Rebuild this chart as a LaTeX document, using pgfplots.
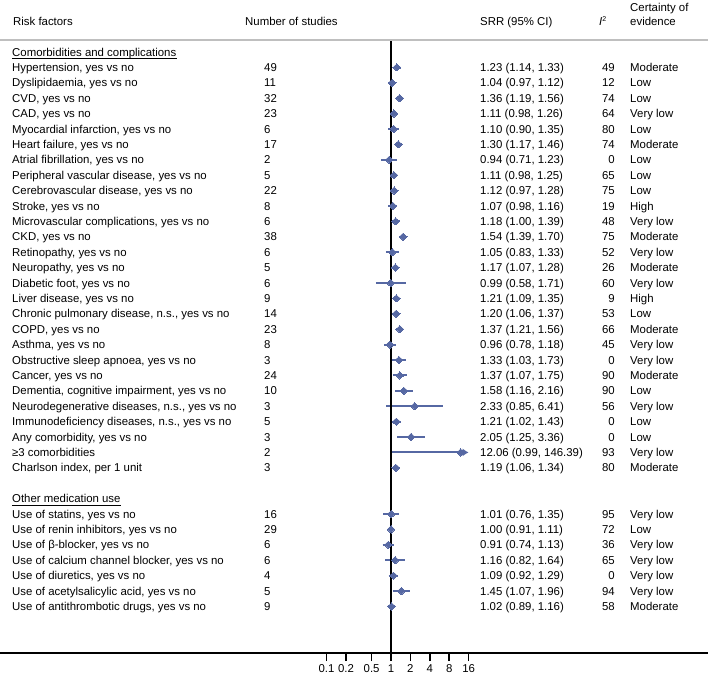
\documentclass[border=0pt]{standalone}
\usepackage{pgfplots}
\pgfplotsset{compat=1.18}
\usepackage{fontspec}
\setmainfont{Liberation Sans}
\usetikzlibrary{arrows.meta}
\definecolor{fp}{RGB}{86,104,163}
\newcommand\fs{\fontsize{11.4}{13.7}\selectfont}
\newcommand\Y[1]{(596.9-15.4*#1)*1pt}
\tikzset{txt/.style={anchor=base west,inner sep=0pt,font=\fs}}
\newcommand\R[6]{%
 \node[txt] at (12pt,{\Y{#1}}) {#2};
 \node[txt] at (264pt,{\Y{#1}}) {#3};
 \node[txt] at (480pt,{\Y{#1}}) {#4};
 \node[txt,anchor=base east] at (615pt,{\Y{#1}}) {#5};
 \node[txt] at (630pt,{\Y{#1}}) {#6};}
\newcommand\ci[3]{\addplot[fp,line width=2pt] coordinates {(#2,#1) (#3,#1)};}
\begin{document}
\begin{tikzpicture}
\useasboundingbox (0pt,-26pt) rectangle (708pt,653pt);
\begin{axis}[at={(0pt,0pt)}, anchor=south west, scale only axis,
  width=708pt, height=613pt,
  xmode=log, log basis x=2, xmin=8.565e-7, xmax=82956,
  ymin=-0.779, ymax=39.026, y dir=reverse,
  axis x line*=bottom, axis y line=none,
  x axis line style={line width=1.5pt,-},
  xtick={0.1,0.2,0.5,1,2,4,8,16},
  xticklabels={0.1,0.2,0.5,1,2,4,8,16},
  minor xtick={}, ytick=\empty,
  tick align=outside, major tick length=8pt,
  xtick style={line width=1.5pt,black},
  tick label style={font=\fs},
  /pgf/number format/assume math mode=true,
  clip=false]
\ci{1}{1.14}{1.33}
\ci{2}{0.97}{1.12}
\ci{3}{1.19}{1.56}
\ci{4}{0.98}{1.26}
\ci{5}{0.90}{1.35}
\ci{6}{1.17}{1.46}
\ci{7}{0.71}{1.23}
\ci{8}{0.98}{1.25}
\ci{9}{0.97}{1.28}
\ci{10}{0.98}{1.16}
\ci{11}{1.00}{1.39}
\ci{12}{1.39}{1.70}
\ci{13}{0.83}{1.33}
\ci{14}{1.07}{1.28}
\ci{15}{0.58}{1.71}
\ci{16}{1.09}{1.35}
\ci{17}{1.06}{1.37}
\ci{18}{1.21}{1.56}
\ci{19}{0.78}{1.18}
\ci{20}{1.03}{1.73}
\ci{21}{1.07}{1.75}
\ci{22}{1.16}{2.16}
\ci{23}{0.85}{6.41}
\ci{24}{1.02}{1.43}
\ci{25}{1.25}{3.36}
\addplot[fp,line width=2pt,-{Latex[length=6pt,width=8pt]}] coordinates {(0.99,26) (16,26)};
\ci{27}{1.06}{1.34}
\ci{30}{0.76}{1.35}
\ci{31}{0.91}{1.11}
\ci{32}{0.74}{1.13}
\ci{33}{0.82}{1.64}
\ci{34}{0.92}{1.29}
\ci{35}{1.07}{1.96}
\ci{36}{0.89}{1.16}
\addplot[black,line width=1.5pt] coordinates {(1,-0.779) (1,39.026)};
\addplot[only marks, mark=diamond*, mark size=3.6pt,
  mark options={fill=fp,draw=fp,line width=0pt,xscale=1.45}] table {
srr row
1.23 1
1.04 2
1.36 3
1.11 4
1.10 5
1.30 6
0.94 7
1.11 8
1.12 9
1.07 10
1.18 11
1.54 12
1.05 13
1.17 14
0.99 15
1.21 16
1.20 17
1.37 18
0.96 19
1.33 20
1.37 21
1.58 22
2.33 23
1.21 24
2.05 25
12.06 26
1.19 27
1.01 30
1.00 31
0.91 32
1.16 33
1.09 34
1.45 35
1.02 36
};
\end{axis}
\draw[black!25,line width=1.5pt] (0pt,613pt) -- (708pt,613pt);
\node[txt] at (13pt,627.2pt) {Risk factors};
\node[txt] at (245pt,627.2pt) {Number of studies};
\node[txt] at (480pt,627.2pt) {SRR (95\% CI)};
\node[txt] at (599pt,627.2pt) {\textit{I}\textsuperscript{\fontsize{7}{8}\selectfont 2}};
\node[txt] at (630pt,641.9pt) {Certainty of};
\node[txt] at (630pt,627.2pt) {evidence};
\node[txt] (s1) at (12pt,{\Y{0}}) {Comorbidities and complications};
\draw[line width=0.9pt] ([yshift=-2.4pt]s1.base west) -- ([yshift=-2.4pt]s1.base east);
\node[txt] (s2) at (12pt,{\Y{29}}) {Other medication use};
\draw[line width=0.9pt] ([yshift=-2.4pt]s2.base west) -- ([yshift=-2.4pt]s2.base east);
\R{1}{Hypertension, yes vs no}{49}{1.23 (1.14, 1.33)}{49}{Moderate}
\R{2}{Dyslipidaemia, yes vs no}{11}{1.04 (0.97, 1.12)}{12}{Low}
\R{3}{CVD, yes vs no}{32}{1.36 (1.19, 1.56)}{74}{Low}
\R{4}{CAD, yes vs no}{23}{1.11 (0.98, 1.26)}{64}{Very low}
\R{5}{Myocardial infarction, yes vs no}{6}{1.10 (0.90, 1.35)}{80}{Low}
\R{6}{Heart failure, yes vs no}{17}{1.30 (1.17, 1.46)}{74}{Moderate}
\R{7}{Atrial fibrillation, yes vs no}{2}{0.94 (0.71, 1.23)}{0}{Low}
\R{8}{Peripheral vascular disease, yes vs no}{5}{1.11 (0.98, 1.25)}{65}{Low}
\R{9}{Cerebrovascular disease, yes vs no}{22}{1.12 (0.97, 1.28)}{75}{Low}
\R{10}{Stroke, yes vs no}{8}{1.07 (0.98, 1.16)}{19}{High}
\R{11}{Microvascular complications, yes vs no}{6}{1.18 (1.00, 1.39)}{48}{Very low}
\R{12}{CKD, yes vs no}{38}{1.54 (1.39, 1.70)}{75}{Moderate}
\R{13}{Retinopathy, yes vs no}{6}{1.05 (0.83, 1.33)}{52}{Very low}
\R{14}{Neuropathy, yes vs no}{5}{1.17 (1.07, 1.28)}{26}{Moderate}
\R{15}{Diabetic foot, yes vs no}{6}{0.99 (0.58, 1.71)}{60}{Very low}
\R{16}{Liver disease, yes vs no}{9}{1.21 (1.09, 1.35)}{9}{High}
\R{17}{Chronic pulmonary disease, n.s., yes vs no}{14}{1.20 (1.06, 1.37)}{53}{Low}
\R{18}{COPD, yes vs no}{23}{1.37 (1.21, 1.56)}{66}{Moderate}
\R{19}{Asthma, yes vs no}{8}{0.96 (0.78, 1.18)}{45}{Very low}
\R{20}{Obstructive sleep apnoea, yes vs no}{3}{1.33 (1.03, 1.73)}{0}{Very low}
\R{21}{Cancer, yes vs no}{24}{1.37 (1.07, 1.75)}{90}{Moderate}
\R{22}{Dementia, cognitive impairment, yes vs no}{10}{1.58 (1.16, 2.16)}{90}{Low}
\R{23}{Neurodegenerative diseases, n.s., yes vs no}{3}{2.33 (0.85, 6.41)}{56}{Very low}
\R{24}{Immunodeficiency diseases, n.s., yes vs no}{5}{1.21 (1.02, 1.43)}{0}{Low}
\R{25}{Any comorbidity, yes vs no}{3}{2.05 (1.25, 3.36)}{0}{Low}
\R{26}{≥3 comorbidities}{2}{12.06 (0.99, 146.39)}{93}{Very low}
\R{27}{Charlson index, per 1 unit}{3}{1.19 (1.06, 1.34)}{80}{Moderate}
\R{30}{Use of statins, yes vs no}{16}{1.01 (0.76, 1.35)}{95}{Very low}
\R{31}{Use of renin inhibitors, yes vs no}{29}{1.00 (0.91, 1.11)}{72}{Low}
\R{32}{Use of β-blocker, yes vs no}{6}{0.91 (0.74, 1.13)}{36}{Very low}
\R{33}{Use of calcium channel blocker, yes vs no}{6}{1.16 (0.82, 1.64)}{65}{Very low}
\R{34}{Use of diuretics, yes vs no}{4}{1.09 (0.92, 1.29)}{0}{Very low}
\R{35}{Use of acetylsalicylic acid, yes vs no}{5}{1.45 (1.07, 1.96)}{94}{Very low}
\R{36}{Use of antithrombotic drugs, yes vs no}{9}{1.02 (0.89, 1.16)}{58}{Moderate}
\end{tikzpicture}
\end{document}
